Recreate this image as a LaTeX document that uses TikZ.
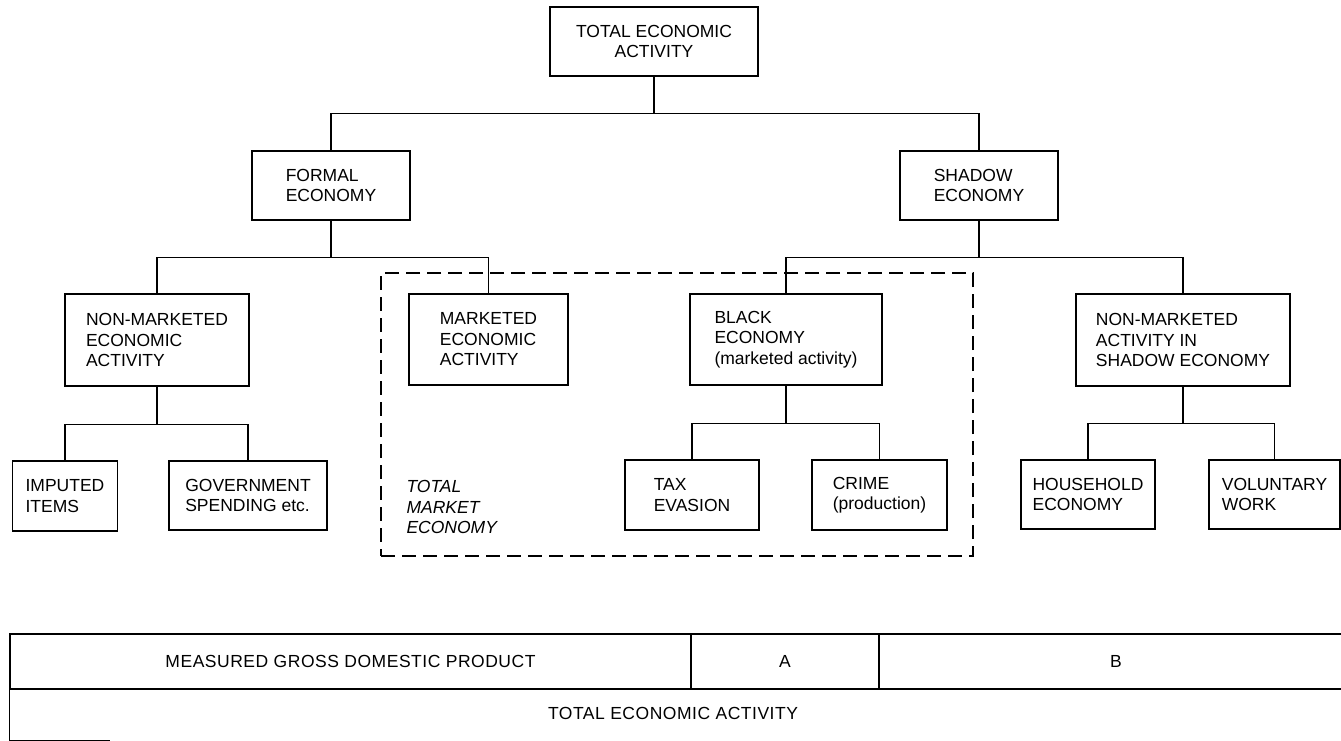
\documentclass[tikz,border=0pt]{standalone}
\usepackage{fontspec}
\setmainfont{Liberation Sans}
\newcommand\boxfont{\fontsize{17.5}{20.5}\selectfont}
\newcommand\tablefont{\fontsize{17.5}{20.5}\selectfont\addfontfeatures{LetterSpace=3}}
\begin{document}
\begin{tikzpicture}[x=1pt,y=-1pt,
  box/.style={draw, line width=1.2pt, inner sep=0pt, align=left, font=\boxfont, fill=white},
  cell/.style={draw, line width=1.2pt, inner sep=0pt, font=\tablefont},
  link/.style={line width=1.2pt},
  frame/.style={draw, line width=1.2pt, dash pattern=on 14pt off 7pt, inner sep=0pt}]
\useasboundingbox (0,0) rectangle (1341,741);

% market economy frame
\node[frame, minimum width=592pt, minimum height=283pt] (mkt) at (677,414.5) {};
\node[font=\boxfont\itshape, align=left, anchor=west] (mktlabel) at (403,507) {TOTAL\\MARKET\\ECONOMY};

% tree boxes
\node[box, align=center, minimum width=208pt, minimum height=69pt] (top) at (654,41.5) {TOTAL ECONOMIC\\ACTIVITY};
\node[box, minimum width=158pt, minimum height=69pt] (formal) at (331,185.5) {FORMAL\\ECONOMY};
\node[box, minimum width=158pt, minimum height=69pt] (shadow) at (979,185.5) {SHADOW\\ECONOMY};
\node[box, minimum width=184pt, minimum height=92pt] (nonmkt) at (157,340) {NON-MARKETED\\ECONOMIC\\ACTIVITY};
\node[box, minimum width=159pt, minimum height=91pt] (marketed) at (488.5,339.5) {MARKETED\\ECONOMIC\\ACTIVITY};
\node[box, minimum width=192pt, minimum height=91pt] (black) at (786,339.5) {BLACK\\ECONOMY\\(marketed activity)};
\node[box, minimum width=214pt, minimum height=92pt] (nonmkts) at (1183,340) {NON-MARKETED\\ACTIVITY IN\\SHADOW ECONOMY};
\node[box, minimum width=105pt, minimum height=70pt] (imputed) at (65,496) {IMPUTED\\ITEMS};
\node[box, minimum width=158pt, minimum height=69pt] (govt) at (248,495.5) {GOVERNMENT\\SPENDING etc.};
\node[box, minimum width=134pt, minimum height=70pt] (tax) at (692,495) {TAX\\EVASION};
\node[box, minimum width=135pt, minimum height=70pt] (crime) at (879.5,495) {CRIME\\(production)};
\node[box, minimum width=134pt, minimum height=69pt] (household) at (1088,494.5) {HOUSEHOLD\\ECONOMY};
\node[box, minimum width=131pt, minimum height=69pt] (voluntary) at (1274.5,494.5) {VOLUNTARY\\WORK};

% junction points of the tree
\path (top.south) ++(0,37) coordinate (j0);
\path (formal.south) ++(0,37) coordinate (j1);
\path (shadow.south) ++(0,37) coordinate (j2);
\path (nonmkt.south) ++(0,38) coordinate (j3);
\path (black.south) ++(0,38) coordinate (j4);
\path (nonmkts.south) ++(0,37) coordinate (j5);

% connectors
\draw[link] (top.south) -- (j0);
\draw[link] (formal.north) |- (j0) -| (shadow.north);
\draw[link] (formal.south) -- (j1);
\draw[link] (nonmkt.north) |- (j1) -| (marketed.north);
\draw[link] (shadow.south) -- (j2);
\draw[link] (black.north) |- (j2) -| (nonmkts.north);
\draw[link] (nonmkt.south) -- (j3);
\draw[link] (imputed.north) |- (j3) -| (govt.north);
\draw[link] (black.south) -- (j4);
\draw[link] (tax.north) |- (j4) -| (crime.north);
\draw[link] (nonmkts.south) -- (j5);
\draw[link] (household.north) |- (j5) -| (voluntary.north);

% measurement table
\node[cell, minimum width=681pt, minimum height=55pt] (gdp) at (350.5,661.5) {MEASURED GROSS DOMESTIC PRODUCT};
\node[cell, minimum width=188pt, minimum height=55pt] (a) at (785,661.5) {A};
\node[cell, minimum width=474pt, minimum height=55pt] (b) at (1116,661.5) {B};
\node[inner sep=0pt, font=\tablefont, minimum width=1326pt, minimum height=48pt] (total) at (673,713) {TOTAL ECONOMIC ACTIVITY};
\draw[link] (total.north west) -- ++(0,52) -- ++(100,0);
\end{tikzpicture}
\end{document}
